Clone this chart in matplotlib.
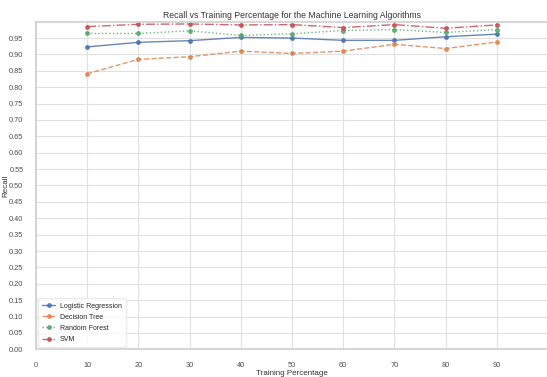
import matplotlib
matplotlib.use('Agg')
import matplotlib.pyplot as plt
import seaborn as sns
import numpy as np

# Data
training_pct = [10, 20, 30, 40, 50, 60, 70, 80, 90]
logistic_regression = [0.923, 0.937, 0.942, 0.952, 0.950, 0.943, 0.943, 0.954, 0.962]
decision_tree = [0.841, 0.885, 0.893, 0.910, 0.903, 0.910, 0.931, 0.918, 0.938]
random_forest = [0.964, 0.964, 0.972, 0.958, 0.963, 0.973, 0.976, 0.967, 0.976]
svm = [0.985, 0.992, 0.993, 0.990, 0.991, 0.982, 0.991, 0.980, 0.990]

series = [
    ('Logistic Regression', logistic_regression, '-'),
    ('Decision Tree', decision_tree, '--'),
    ('Random Forest', random_forest, ':'),
    ('SVM', svm, '-.'),
]

sns.set_theme(style='whitegrid')
plt.rcParams['font.family'] = ['Liberation Sans', 'DejaVu Sans']

fig = plt.figure(figsize=(5.47, 3.77), dpi=100)
ax = fig.add_axes([0.0658, 0.0735, 0.936, 0.869])

colors = sns.color_palette('deep')
for i, (name, vals, ls) in enumerate(series):
    ax.plot(training_pct, vals, linestyle=ls, marker='o', markersize=2.5,
            linewidth=1.0, alpha=0.85, color=colors[i], label=name)

ax.set_xlim(0, 100)
ax.set_ylim(0, 1.0)
ax.set_xticks(np.arange(0, 100, 10))
ax.set_yticks(np.arange(0, 0.96, 0.05))
ax.yaxis.set_major_formatter(matplotlib.ticker.FormatStrFormatter('%.2f'))
ax.tick_params(labelsize=5.3, pad=3, colors='.3')
for sp in ax.spines.values():
    sp.set_color('.82')
ax.grid(color='.88', linewidth=0.8)

ax.set_title('Recall vs Training Percentage for the Machine Learning Algorithms',
             fontsize=6.2, pad=3, color='.2')
ax.set_xlabel('Training Percentage', fontsize=5.8, labelpad=1, color='.2')
ax.set_ylabel('Recall', fontsize=5.8, color='.2')
ax.yaxis.set_label_coords(-0.052, 0.5)

leg = ax.legend(loc='lower left', fontsize=5, frameon=True, borderpad=0.6,
                handlelength=1.9, handletextpad=0.6, labelspacing=0.6,
                borderaxespad=0.3)
leg.get_frame().set_edgecolor('.9')

fig.savefig('out.png', dpi=100)
